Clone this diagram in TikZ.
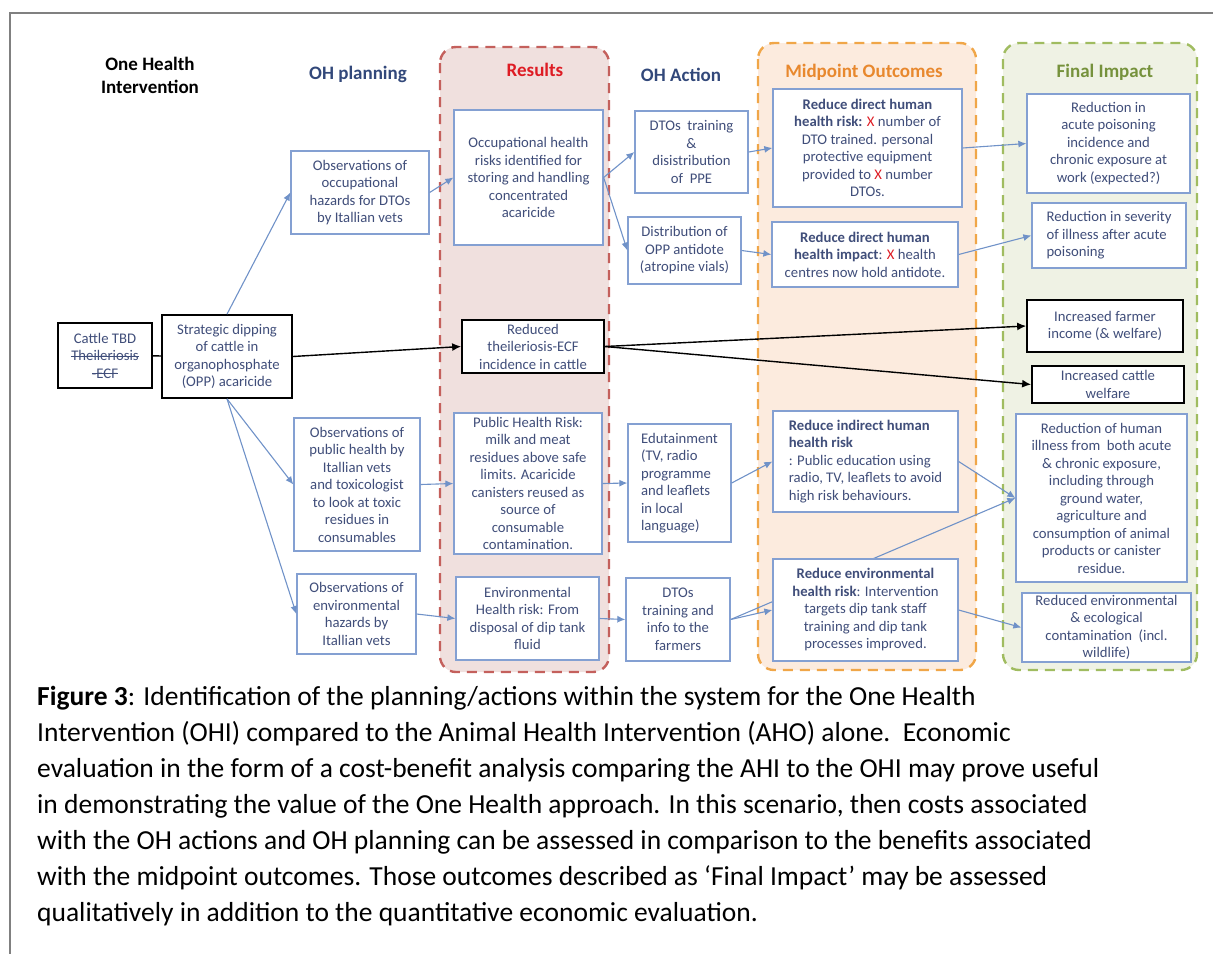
\documentclass[tikz,border=0pt]{standalone}
\usepackage{fontspec}
\setmainfont{Carlito}
\usetikzlibrary{arrows.meta, positioning}

\definecolor{ohtext}{RGB}{64,78,122}
\definecolor{ohhead}{RGB}{50,72,122}
\definecolor{boxblue}{RGB}{132,160,210}
\definecolor{arrowblue}{RGB}{112,146,200}
\definecolor{xred}{RGB}{222,28,36}
\definecolor{resline}{RGB}{196,96,92}
\definecolor{resfill}{RGB}{240,224,222}
\definecolor{midline}{RGB}{240,166,72}
\definecolor{midfill}{RGB}{252,235,222}
\definecolor{midhead}{RGB}{232,136,46}
\definecolor{finline}{RGB}{160,188,96}
\definecolor{finfill}{RGB}{239,242,228}
\definecolor{finhead}{RGB}{118,146,60}

\pgfdeclarelayer{panels}
\pgfdeclarelayer{behind}
\pgfsetlayers{panels,behind,main}

\newcommand{\xr}{\textcolor{xred}{X}}
\newcommand{\struck}[1]{\setbox0\hbox{#1}\rlap{\rule[0.27em]{\wd0}{0.7pt}}\box0}

\begin{document}
\begin{tikzpicture}[x=1pt, y=-1pt,
  box/.style={draw=boxblue, line width=1.3pt, fill=white, text=ohtext,
    align=center, inner sep=0pt, font=\fontsize{14.7}{17.5}\selectfont},
  blackbox/.style={box, draw=black, line width=1.7pt},
  head/.style={font=\fontsize{19}{23}\selectfont\bfseries},
  panel/.style={line width=2.4pt, rounded corners=16pt, dash pattern=on 10pt off 7pt},
  bluearrow/.style={draw=arrowblue, line width=1.1pt, -{Latex[length=8pt,width=7pt]}},
  blackarrow/.style={draw=black, line width=1.4pt, -{Latex[length=9pt,width=8pt]}},
]
\useasboundingbox (0,0) rectangle (1213,954);
\draw[gray, line width=2pt] (1213,13) -- (10,13) -- (10,954);

\begin{pgfonlayer}{panels}
\draw[panel, draw=resline, fill=resfill] (440,47) rectangle (609,672);
\draw[panel, draw=midline, fill=midfill] (758,43) rectangle (976,670);
\draw[panel, draw=finline, fill=finfill] (1003,43) rectangle (1197,670);
\end{pgfonlayer}

% column headings
\node[head, align=center] (hOHI) at (150,75) {One Health\\Intervention};
\node[head, text=ohhead] (hPlan) at (358,74) {OH planning};
\node[head, text=xred] (hRes) at (535,70) {Results};
\node[head, text=ohhead] (hAct) at (681,75) {OH Action};
\node[head, text=midhead] (hMid) at (864,72) {Midpoint Outcomes};
\node[head, text=finhead] (hFin) at (1105,72) {Final Impact};

% intervention
\node[blackbox, minimum width=94, minimum height=65] (cattle) at (105,355.5)
  {Cattle TBD\\\struck{Theileriosis}\\\struck{-ECF}};
\node[blackbox, minimum width=130, minimum height=83] (dip) at (227,356.5)
  {Strategic dipping\\of cattle in\\organophosphate\\(OPP) acaricide};

% OH planning
\node[box, minimum width=138, minimum height=83] (obsOcc) at (360,192.5)
  {Observations of\\occupational\\hazards for DTOs\\by Itallian vets};
\node[box, minimum width=126, minimum height=133] (obsPub) at (357,484.5)
  {Observations of\\public health by\\Itallian vets\\and toxicologist\\to look at toxic\\residues in\\consumables};
\node[box, minimum width=119, minimum height=80] (obsEnv) at (356.5,614)
  {Observations of\\environmental\\hazards by\\Itallian vets};

% results
\node[box, minimum width=149, minimum height=135] (resOcc) at (528.5,177.5)
  {Occupational health\\risks identified for\\storing and handling\\concentrated\\acaricide};
\node[blackbox, minimum width=142, minimum height=53] (resCattle) at (533,346.5)
  {Reduced\\theileriosis-ECF\\incidence in cattle};
\node[box, minimum width=148, minimum height=141] (resPub) at (528,483.5)
  {Public Health Risk:\\milk and meat\\residues above safe\\limits. Acaricide\\canisters reused as\\source of\\consumable\\contamination.};
\node[box, minimum width=143, minimum height=83] (resEnv) at (527.5,618.5)
  {Environmental\\Health risk: From\\disposal of dip tank\\fluid};

% OH action
\node[box, minimum width=113, minimum height=82] (actPPE) at (691.5,152)
  {DTOs\ \ training\\\&\\disistribution\\of\ \ PPE};
\node[box, minimum width=113, minimum height=67] (actAnti) at (684.5,250.5)
  {Distribution of\\OPP antidote\\(atropine vials)};
\node[box, align=left, minimum width=103, minimum height=118] (actEdu) at (679.5,483)
  {Edutainment\\(TV, radio\\programme\\and leaflets\\in local\\language)};
\node[box, minimum width=104, minimum height=83] (actDTO) at (678,619.5)
  {DTOs\\training and\\info to the\\farmers};

% midpoint outcomes
\node[box, minimum width=189, minimum height=118] (midRisk) at (867.5,148)
  {\textbf{Reduce direct human}\\\textbf{health risk:} \xr{} number of\\DTO trained. personal\\protective equipment\\provided to \xr{} number\\DTOs.};
\node[box, minimum width=186, minimum height=65] (midImpact) at (865,254.5)
  {\textbf{Reduce direct human}\\\textbf{health impact}: \xr{} health\\centres now hold antidote.};
\node[box, align=left, minimum width=185, minimum height=101] (midIndirect) at (865.5,461.5)
  {\textbf{Reduce indirect human}\\\textbf{health risk}\\: Public education using\\radio, TV, leaflets to avoid\\high risk behaviours.};
\node[box, minimum width=185, minimum height=102] (midEnv) at (865.5,610)
  {\textbf{Reduce environmental}\\\textbf{health risk}: Intervention\\targets dip tank staff\\training and dip tank\\processes improved.};

% final impact
\node[box, minimum width=163, minimum height=99] (finAcute) at (1108.5,143.5)
  {Reduction in\\acute poisoning\\incidence and\\chronic exposure at\\work (expected?)};
\node[box, align=left, minimum width=154, minimum height=65] (finSeverity) at (1109,235.5)
  {Reduction in severity\\of illness after acute\\poisoning};
\node[blackbox, minimum width=156, minimum height=52] (finIncome) at (1105,326)
  {Increased farmer\\income (\& welfare)};
\node[blackbox, minimum width=152, minimum height=37] (finWelfare) at (1108,384.5)
  {Increased cattle\\welfare};
\node[box, minimum width=171, minimum height=168] (finHuman) at (1101.5,498)
  {Reduction of human\\illness from\ \ both acute\\\& chronic exposure,\\including through\\ground water,\\agriculture and\\consumption of animal\\products or canister\\residue.};
\node[box, minimum width=169, minimum height=69] (finEnv) at (1106.5,627.5)
  {Reduced environmental\\\& ecological\\contamination\ \ (incl.\\wildlife)};

\begin{pgfonlayer}{behind}
\draw (actDTO.east) edge[bluearrow] (finHuman.west);
\end{pgfonlayer}

\draw[line width=1.4pt] (cattle) -- (dip);
\draw
    (dip.north) edge[bluearrow] (obsOcc.west)
    (dip.south) edge[bluearrow] (obsPub.west)
    (dip.south) edge[bluearrow] (obsEnv.west)
    (obsOcc.east) edge[bluearrow] (resOcc.west)
    (obsPub.east) edge[bluearrow] (resPub.west)
    (obsEnv.east) edge[bluearrow] (resEnv.west)
    (resOcc.east) edge[bluearrow] (actPPE.west)
    (resOcc.east) edge[bluearrow] (actAnti.west)
    (resPub.east) edge[bluearrow] (actEdu.west)
    (resEnv.east) edge[bluearrow] (actDTO.west)
    (actPPE.east) edge[bluearrow] (midRisk.west)
    (actAnti.east) edge[bluearrow] (midImpact.west)
    (actEdu.east) edge[bluearrow] (midIndirect.west)
    (actDTO.east) edge[bluearrow] (midEnv.west)
    (midRisk.east) edge[bluearrow] (finAcute.west)
    (midImpact.east) edge[bluearrow] (finSeverity.west)
    (midIndirect.east) edge[bluearrow] (finHuman.west)
    (midEnv.east) edge[bluearrow] (finEnv.west)
    (dip.east) edge[blackarrow] (resCattle.west)
    (resCattle.east) edge[blackarrow] (finIncome.west)
    (resCattle.east) edge[blackarrow] (finWelfare.west)
    ;

\node[anchor=north west, align=left, inner sep=0pt, font=\fontsize{27.5}{36}\selectfont] (caption) at (37,686)
  {\textbf{Figure 3}: Identification of the planning/actions within the system for the One Health\\
   Intervention (OHI) compared to the Animal Health Intervention (AHO) alone.\ \ Economic\\
   evaluation in the form of a cost-benefit analysis comparing the AHI to the OHI may prove useful\\
   in demonstrating the value of the One Health approach. In this scenario, then costs associated\\
   with the OH actions and OH planning can be assessed in comparison to the benefits associated\\
   with the midpoint outcomes. Those outcomes described as ‘Final Impact’ may be assessed\\
   qualitatively in addition to the quantitative economic evaluation.};
\end{tikzpicture}
\end{document}
